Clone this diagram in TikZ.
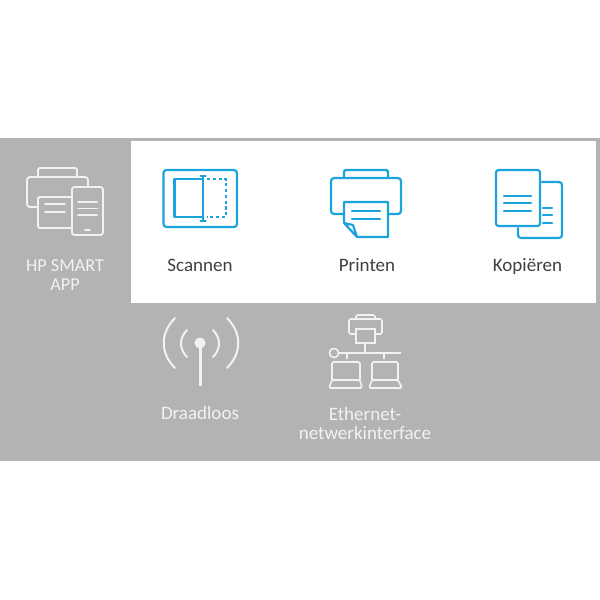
\documentclass[tikz,border=0pt]{standalone}
\usepackage{fontspec}
\setmainfont{Carlito}
\definecolor{band}{HTML}{B3B3B3}
\definecolor{hpblue}{HTML}{1BA3DD}
\definecolor{ink}{HTML}{404040}
\definecolor{pale}{HTML}{F2F2F2}
\tikzset{
 blueicon/.style={draw=hpblue,line width=2.2pt,rounded corners=1.5pt,line cap=round,line join=round},
 paleicon/.style={draw=pale,line width=1.8pt,rounded corners=1.5pt,line cap=round,line join=round},
 lightline/.style={draw=pale,line width=1.6pt,rounded corners=1.5pt},
 lab/.style={font=\fontsize{19}{22}\selectfont,text=ink,inner sep=0pt,anchor=base},
 pallab/.style={font=\fontsize{19}{22}\selectfont,text=pale,inner sep=0pt,anchor=base}
}
\begin{document}
\begin{tikzpicture}[x=1pt,y=-1pt]
\useasboundingbox (0,0) rectangle (600,600);
\fill[white] (0,0) rectangle (600,600);
\fill[band] (0,138) rectangle (600,461);
\fill[white] (131,141) rectangle (596,303);
% HP Smart app icon
\draw[paleicon] (38,177) -- (38,168) -- (77,168) -- (77,177);
\draw[paleicon,rounded corners=3pt] (38,207) -- (27,207) -- (27,177) -- (88,177) -- (88,187);
\draw[paleicon] (72,228) -- (38,228) -- (38,197) -- (72,197);
\draw[paleicon] (45,204) -- (65,204) (45,212) -- (65,212);
\draw[paleicon,rounded corners=2.5pt] (72,187) rectangle (103,235);
\draw[paleicon] (78,202) -- (97,202) (78,208.5) -- (97,208.5) (78,215) -- (97,215);
\draw[paleicon] (85,230) -- (90,230);
% Scan icon
\draw[blueicon,rounded corners=3pt] (163.5,170) rectangle (237,227);
\draw[blueicon,line width=2.5pt,rounded corners=0pt] (203,179) -- (174.5,179) -- (174.5,217) -- (203,217);
\draw[blueicon,line width=2.5pt,rounded corners=0pt] (203,176) -- (203,221) (200.5,176) -- (205.5,176) (200.5,221) -- (205.5,221);
\draw[hpblue,line width=2.5pt,dash pattern=on 3.2pt off 2.6pt] (207,179) -- (226,179) -- (226,217) -- (207,217);
% Print icon
\draw[blueicon] (344,178) -- (344,170) -- (388,170) -- (388,178);
\draw[blueicon,rounded corners=3pt] (344,214) -- (331,214) -- (331,178) -- (401,178) -- (401,214) -- (388,214);
\draw[blueicon,rounded corners=0.5pt] (344,223) -- (344,202) -- (388,202) -- (388,237) -- (357,237) -- (344,223) -- (353,225) -- (357,237);
\draw[blueicon] (352,211) -- (380,211) (352,219) -- (380,219);
% Copy icon
\draw[blueicon,rounded corners=2.5pt] (496,170) rectangle (540,226);
\draw[blueicon] (504,196) -- (531,196) (504,203) -- (531,203) (504,211) -- (531,211);
\draw[blueicon,rounded corners=3pt] (542,182) -- (562,182) -- (562,238) -- (518,238) -- (518,228);
\draw[blueicon] (543,208) -- (552,208) (543,215) -- (552,215) (543,223) -- (552,223);
% Wireless icon
\fill[pale] (200,343) circle (5.5);
\draw[pale,line width=3pt] (200,343) -- (200,386);
\draw[pale,line width=2pt,line cap=round] (187,330) .. controls (179,338) and (179,349) .. (187,357);
\draw[pale,line width=2pt,line cap=round] (213,330) .. controls (221,338) and (221,349) .. (213,357);
\draw[pale,line width=2pt,line cap=round] (175,318) .. controls (160,333) and (160,353) .. (175,368);
\draw[pale,line width=2pt,line cap=round] (227,318) .. controls (242,333) and (242,353) .. (227,368);
% Ethernet icon
\draw[lightline] (356,319) -- (356,315) -- (375,315) -- (375,319);
\draw[lightline] (356,334) -- (349,334) -- (349,319) -- (382,319) -- (382,334) -- (375,334);
\draw[lightline,rounded corners=0pt] (356,329) rectangle (375,343);
\draw[lightline,rounded corners=0pt] (365,343) -- (365,353);
\draw[lightline] (334,353) circle (4.6);
\draw[lightline,rounded corners=0pt] (339,353) -- (401,353) (347,353) -- (347,359) (384,353) -- (384,359);
\draw[lightline] (332,380) -- (332,362) -- (360,362) -- (360,380);
\draw[lightline] (332,380) -- (360,380) -- (362,388) -- (329,388) -- cycle;
\draw[lightline] (372,380) -- (372,362) -- (398,362) -- (398,380);
\draw[lightline] (372,380) -- (398,380) -- (402,388) -- (369,388) -- cycle;
% Labels
\node[pallab,font=\fontsize{18.2}{22}\selectfont] (smartA) at (65,271) {HP SMART};
\node[pallab,font=\fontsize{18.2}{22}\selectfont] (smartB) at (65,290) {APP};
\node[lab] (scan) at (200,271) {Scannen};
\node[lab] (print) at (367,271) {Printen};
\node[lab] (copy) at (527.5,271) {Kopiëren};
\node[pallab] (wifi) at (200,419) {Draadloos};
\node[pallab] (ethA) at (365,420) {Ethernet-};
\node[pallab] (ethB) at (365,439) {netwerkinterface};
\end{tikzpicture}
\end{document}
